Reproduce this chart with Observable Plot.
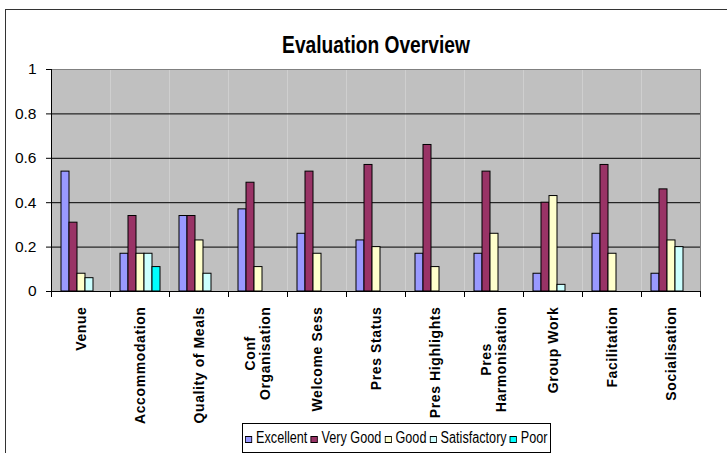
<!DOCTYPE html>
<html>
<head>
<meta charset="utf-8">
<script src="https://cdn.jsdelivr.net/npm/d3@7"></script>
<script src="https://cdn.jsdelivr.net/npm/@observablehq/plot@0.6"></script>
<style>
  html, body { margin: 0; padding: 0; background: #fff; }
  #wrap { position: relative; width: 727px; height: 453px; overflow: hidden; background: #fff;
          font-family: "Liberation Sans", Arial, sans-serif; }
  #border { position: absolute; left: 5px; top: 9px; width: 900px; height: 900px; border: 1.5px solid #333; box-sizing: border-box; }
  #title { position: absolute; left: 176px; width: 400px; top: 33px; text-align: center; font-weight: bold; font-size: 24px;
           line-height: 24px; color: #000; transform: scaleX(0.8); transform-origin: 200px 0; }
  #chart { position: absolute; left: 0; top: 0; }
  #legend { position: absolute; left: 242px; top: 423px; width: 309px; height: 30px; border: 1px solid #000; box-sizing: border-box; background: #fff; }
  #legend .inner { position: absolute; left: 2px; top: 0; width: 383px; height: 28px; display: flex; align-items: center;
                   justify-content: space-between; font-size: 16px; color: #000;
                   white-space: nowrap; transform: scaleX(0.79); transform-origin: 0 50%; }
  #legend .item { display: flex; align-items: center; flex: none; }
  #legend .sw { flex: none; width: 7px; height: 5px; border: 1px solid #000; margin-right: 5px; margin-top: 2px; }
</style>
</head>
<body>
<div id="wrap">
  <div id="border"></div>
  <div id="title">Evaluation Overview</div>
  <div id="chart"></div>
  <div id="legend"><div class="inner"></div></div>
</div>
<script>
const categories = ["Venue", "Accommodation", "Quality of Meals", "Conf\nOrganisation", "Welcome Sess",
  "Pres Status", "Pres Highlights", "Pres\nHarmonisation", "Group Work", "Facilitation", "Socialisation"];
const series = ["Excellent", "Very Good", "Good", "Satisfactory", "Poor"];
const colors = ["#9999FF", "#993366", "#FFFFCC", "#CCFFFF", "#00FFFF"];
const excellent    = [0.54, 0.17, 0.34, 0.37, 0.26, 0.23, 0.17, 0.17, 0.08, 0.26, 0.08];
const veryGood     = [0.31, 0.34, 0.34, 0.49, 0.54, 0.57, 0.66, 0.54, 0.40, 0.57, 0.46];
const good         = [0.08, 0.17, 0.23, 0.11, 0.17, 0.20, 0.11, 0.26, 0.43, 0.17, 0.23];
const satisfactory = [0.06, 0.17, 0.08, 0, 0, 0, 0, 0, 0.03, 0, 0.20];
const poor         = [0, 0.11, 0, 0, 0, 0, 0, 0, 0, 0, 0];
const yTicks = [0, 0.2, 0.4, 0.6, 0.8, 1];

const valuesBySeries = [excellent, veryGood, good, satisfactory, poor];
const data = [];
categories.forEach((c, i) => series.forEach((s, j) => {
  const v = valuesBySeries[j][i];
  if (v > 0) data.push({cat: c, series: s, value: v});
}));

const W = 727, H = 453, mT = 69, mB = 162, mL = 50, mR = 27;
const plotH = H - mT - mB;

const chart = Plot.plot({
  width: W, height: H,
  marginLeft: mL, marginRight: mR, marginTop: mT, marginBottom: mB,
  style: {background: "transparent", fontFamily: "'Liberation Sans', Arial, sans-serif", color: "#000"},
  fx: {domain: categories, padding: 0, label: null, axis: null},
  x: {domain: series, paddingInner: 0, paddingOuter: 0.78, axis: null},
  y: {domain: [0, 1], axis: null, label: null},
  color: {domain: series, range: colors},
  marks: [
    Plot.frame({fill: "#C0C0C0", stroke: null}),
    Plot.gridY(yTicks.filter(d => d > 0 && d < 1), {stroke: "#000", strokeOpacity: 1}),
    Plot.ruleY([1], {stroke: "#808080"}),
    Plot.frame({anchor: "right", stroke: "#808080", facetAnchor: "right"}),
    Plot.barY(data, {fx: "cat", x: "series", y: "value", fill: "series", stroke: "#000", strokeWidth: 1}),
    Plot.ruleY([0], {stroke: "#000"}),
    Plot.frame({anchor: "left", stroke: "#000", facetAnchor: "left"}),
    Plot.frame({anchor: "left", stroke: "#000", insetTop: plotH, insetBottom: -5}),
    Plot.frame({anchor: "right", stroke: "#000", insetTop: plotH, insetBottom: -5, facetAnchor: "right"}),
    Plot.axisY(yTicks, {tickSize: 5, tickPadding: 10, fontSize: 15.5, tickFormat: d => String(d), stroke: "#000", label: null}),
    Plot.axisFx({anchor: "bottom", tickSize: 0, tickPadding: 15, tickRotate: -90, fontSize: 14, fontWeight: "bold",
                 label: null, textAnchor: "end", lineHeight: 1.05})
  ]
});
document.getElementById("chart").appendChild(chart);

// letter-spaced category labels; multi-line labels centred within their block
const fxLabels = d3.select(chart).selectAll('g[aria-label="fx-axis tick label"] text');
fxLabels.style("letter-spacing", "0.6px");
fxLabels.each(function() {
  const tspans = Array.from(this.querySelectorAll("tspan"));
  if (tspans.length > 1) {
    const maxLen = d3.max(tspans, t => t.getComputedTextLength());
    this.setAttribute("text-anchor", "middle");
    tspans.forEach(t => t.setAttribute("x", -maxLen / 2));
  }
});

const legend = d3.select("#legend .inner");
series.forEach((s, j) => {
  const it = legend.append("div").attr("class", "item");
  it.append("div").attr("class", "sw").style("background", colors[j]);
  it.append("span").text(s);
});
</script>
</body>
</html>
